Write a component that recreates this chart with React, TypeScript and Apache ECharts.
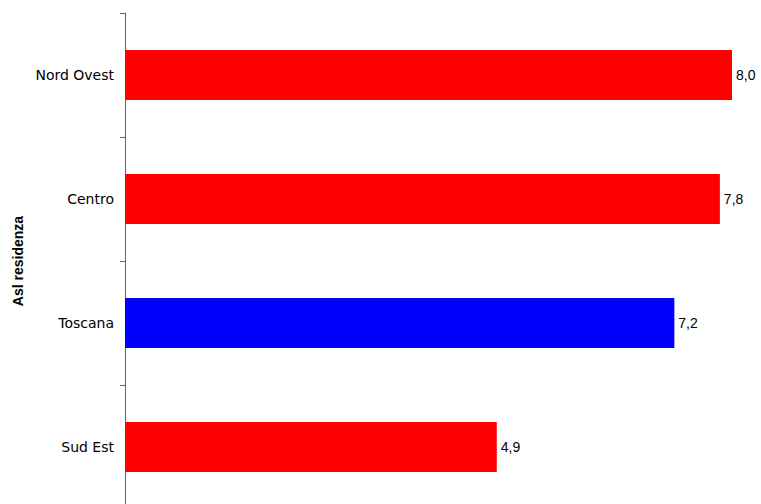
import React, { useEffect, useRef } from "react";
import * as echarts from "echarts";

const categories = ["Nord Ovest", "Centro", "Toscana", "Sud Est"];
const values = [8.0, 7.84, 7.24, 4.9];
const barColors = ["#ff0000", "#ff0000", "#0000ff", "#ff0000"];
const axisTitle = "Asl residenza";

export default function App() {
  const ref = useRef<HTMLDivElement>(null);
  useEffect(() => {
    if (!ref.current) return;
    const chart = echarts.init(ref.current, null, { renderer: "svg" });
    chart.setOption({
      animation: false,
      backgroundColor: "#ffffff",
      grid: { left: 125, top: 13, bottom: 11, right: 29, containLabel: false },
      xAxis: { type: "value", min: 0, max: 8, show: false },
      yAxis: {
        type: "category",
        data: categories,
        inverse: true,
        name: axisTitle,
        nameLocation: "middle",
        nameRotate: 90,
        nameGap: 98,
        nameTextStyle: { fontFamily: "Liberation Sans", fontWeight: "bold", fontSize: 14, color: "#000", padding: [0, 0, 0, 0] },
        axisLine: { lineStyle: { color: "#666666", width: 1 } },
        axisTick: { show: true, length: 5, lineStyle: { color: "#666666" } },
        axisLabel: { fontFamily: "DejaVu Sans", fontSize: 14, color: "#000", margin: 11 },
        splitLine: { show: false },
      },
      series: [
        {
          type: "bar",
          barWidth: 50,
          data: values.map((v, i) => ({ value: v, itemStyle: { color: barColors[i] } })),
          label: {
            show: true,
            position: "right",
            distance: 4,
            fontFamily: "Liberation Sans",
            fontSize: 14,
            color: "#000",
            formatter: (p: any) => Number(p.value).toFixed(1).replace(".", ","),
          },
        },
      ],
    });
    return () => chart.dispose();
  }, []);
  return (
    <div
      style={{ position: "fixed", left: 0, top: 0, width: 761, height: 504, overflow: "hidden", background: "#fff" }}
    >
      <div ref={ref} style={{ width: 761, height: 520 }} />
    </div>
  );
}
